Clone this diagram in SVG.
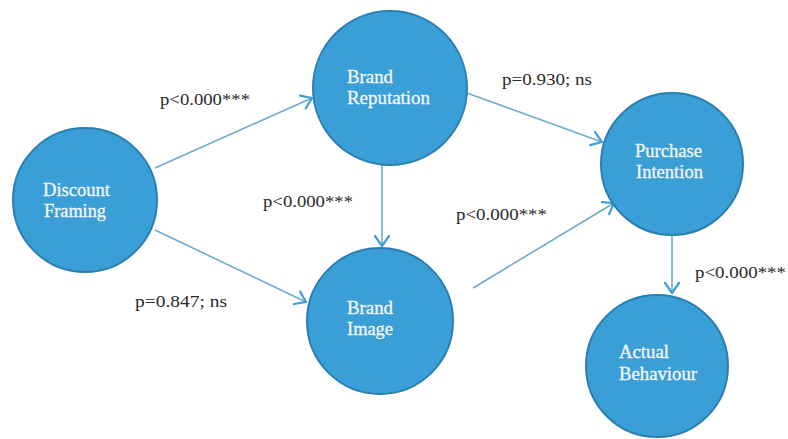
<svg xmlns="http://www.w3.org/2000/svg" width="788" height="439" viewBox="0 0 788 439">
<style>
.node circle{fill:#3a9fd6;stroke:#2a7fb2;stroke-width:2}
.node text{fill:#f4f6f8;font-family:"Liberation Serif",serif;font-size:18px;stroke:#f4f6f8;stroke-width:0.3}
.lbl{fill:#2a2a2a;font-family:"Liberation Serif",serif;font-size:17px}
.conn line{stroke:#6eaccc;stroke-width:1.6;marker-end:url(#arr)}
</style>
<defs>
<marker id="arr" markerUnits="userSpaceOnUse" markerWidth="20" markerHeight="20" viewBox="-12 -10 14 20" refX="0" refY="0" orient="auto">
<path d="M-10,-7 L0,0 L-10,7" fill="none" stroke="#3d9fd8" stroke-width="2.2" stroke-linecap="round" stroke-linejoin="round"/>
</marker>
</defs>
<rect width="788" height="439" fill="#ffffff"/>
<g id="connectors" class="conn">
<line x1="155" y1="168" x2="312" y2="98"/>
<line x1="155" y1="230" x2="306" y2="302"/>
<line x1="382" y1="165" x2="382" y2="246"/>
<line x1="467" y1="93" x2="602" y2="142"/>
<line x1="473" y1="288" x2="614" y2="203"/>
<line x1="672" y1="235" x2="672" y2="293"/>
</g>
<g id="labels">
<text class="lbl" x="160" y="105" textLength="90" lengthAdjust="spacingAndGlyphs">p&lt;0.000***</text>
<text class="lbl" x="135" y="307" textLength="92" lengthAdjust="spacingAndGlyphs">p=0.847; ns</text>
<text class="lbl" x="263" y="207" textLength="90" lengthAdjust="spacingAndGlyphs">p&lt;0.000***</text>
<text class="lbl" x="502" y="85" textLength="90" lengthAdjust="spacingAndGlyphs">p=0.930; ns</text>
<text class="lbl" x="456" y="220" textLength="91" lengthAdjust="spacingAndGlyphs">p&lt;0.000***</text>
<text class="lbl" x="695" y="278" textLength="91" lengthAdjust="spacingAndGlyphs">p&lt;0.000***</text>
</g>
<g id="discount-framing" class="node">
<circle cx="85" cy="200" r="72"/>
<text x="43" y="196" textLength="67" lengthAdjust="spacingAndGlyphs">Discount</text>
<text x="44" y="217" textLength="62" lengthAdjust="spacingAndGlyphs">Framing</text>
</g>
<g id="brand-reputation" class="node">
<circle cx="390" cy="88" r="77"/>
<text x="347" y="83" textLength="46" lengthAdjust="spacingAndGlyphs">Brand</text>
<text x="347" y="104" textLength="83" lengthAdjust="spacingAndGlyphs">Reputation</text>
</g>
<g id="brand-image" class="node">
<circle cx="380" cy="321" r="73"/>
<text x="347" y="314" textLength="46" lengthAdjust="spacingAndGlyphs">Brand</text>
<text x="347" y="335" textLength="46" lengthAdjust="spacingAndGlyphs">Image</text>
</g>
<g id="purchase-intention" class="node">
<circle cx="672" cy="164" r="71"/>
<text x="635" y="157" textLength="67" lengthAdjust="spacingAndGlyphs">Purchase</text>
<text x="636" y="178" textLength="67" lengthAdjust="spacingAndGlyphs">Intention</text>
</g>
<g id="actual-behaviour" class="node">
<circle cx="657" cy="366" r="71"/>
<text x="619" y="358" textLength="50" lengthAdjust="spacingAndGlyphs">Actual</text>
<text x="619" y="380" textLength="78" lengthAdjust="spacingAndGlyphs">Behaviour</text>
</g>
</svg>
